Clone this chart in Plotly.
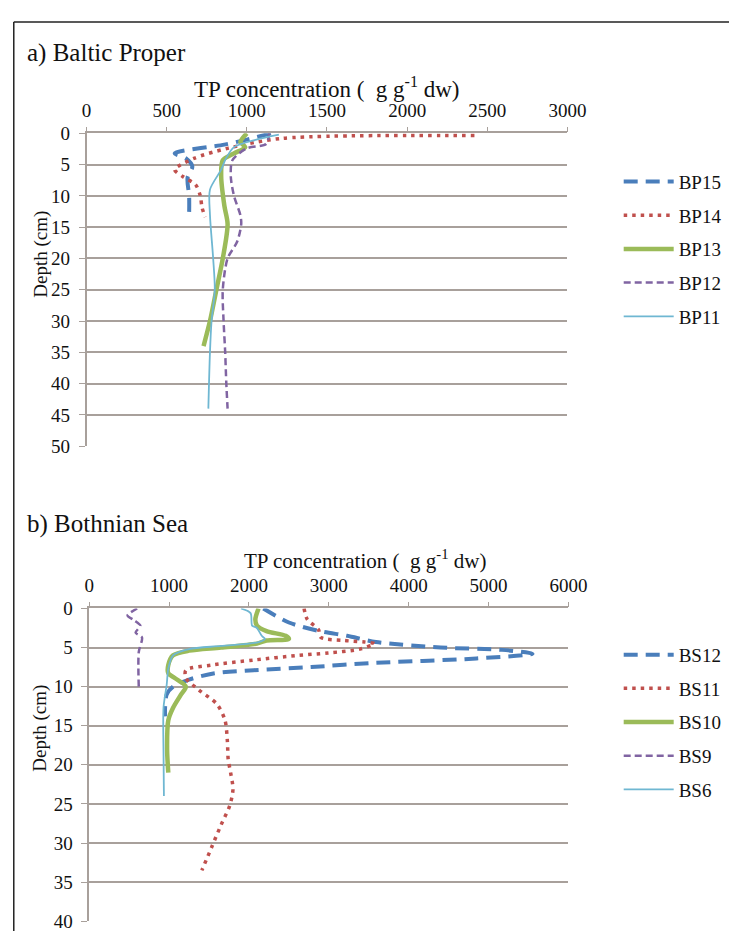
import plotly.graph_objects as go

# ---------------- data: a) Baltic Proper ----------------
bp_names = ["BP15", "BP14", "BP13", "BP12", "BP11"]
bp15_depth = [0, 1, 1.8, 3.2, 4.0, 5.3, 7.1, 10, 13.1]
bp15_tp = [1150, 1000, 860, 550, 620, 660, 630, 640, 640]
bp14_depth = [0.35, 0.8, 2.4, 4.0, 5.8, 6.9, 8.2, 10, 11.8, 13.4]
bp14_tp = [2420, 1220, 880, 670, 550, 600, 680, 710, 720, 740]
bp13_depth = [0, 1.4, 2.2, 3.2, 4.3, 6.9, 11.6, 14.5, 20, 25, 30, 34]
bp13_tp = [1000, 960, 990, 920, 850, 840, 860, 880, 850, 810, 770, 730]
bp12_depth = [0, 1.7, 2.4, 4.3, 6.9, 10, 13.1, 14.5, 17.3, 20, 25, 30, 35, 40, 44]
bp12_tp = [1140, 1120, 1000, 910, 900, 920, 960, 965, 940, 880, 850, 855, 865, 872, 880]
bp11_depth = [0.2, 1, 2.2, 4, 5.8, 9, 13, 20, 25, 30, 35, 44]
bp11_tp = [1200, 1060, 920, 870, 840, 770, 770, 790, 800, 780, 770, 760]

# ---------------- data: b) Bothnian Sea ----------------
bs_names = ["BS12", "BS11", "BS10", "BS9", "BS6"]
bs12_depth = [0, 1.8, 2.9, 3.5, 4.3, 5.0, 5.3, 5.8, 6.4, 7.0, 7.5, 7.9, 8.3, 9.1, 10, 11, 12.6, 13.8]
bs12_tp = [2180, 2500, 2880, 3230, 3590, 4400, 5170, 5550, 4850, 3500, 2780, 2060, 1570, 1250, 1050, 970, 950, 950]
bs11_depth = [0, 1.4, 2.7, 3.7, 4.1, 4.3, 4.5, 5.2, 5.7, 6.0, 6.6, 7.25, 7.9, 8.9, 10.4,
              12.25, 14.3, 17, 19.3, 21, 23.1, 25.2, 27.7, 30.6, 33.5]
bs11_tp = [2690, 2730, 2870, 2900, 3190, 3450, 3570, 3390, 2990, 2620, 2060, 1530, 1210, 1210, 1370,
           1600, 1700, 1730, 1740, 1770, 1800, 1760, 1650, 1530, 1410]
bs10_depth = [0, 1.4, 2.2, 2.9, 3.5, 3.9, 4.1, 4.5, 5.0, 5.4, 6, 7.25, 8.3, 8.9, 10, 11, 12.7, 14.3, 18, 21]
bs10_tp = [2120, 2080, 2100, 2220, 2460, 2500, 2220, 2100, 1650, 1250, 1050, 990, 990, 1070, 1210, 1150,
           1050, 990, 975, 990]
bs9_depth = [0, 0.9, 1.5, 2.2, 3.1, 3.7, 5.6, 10]
bs9_tp = [600, 480, 560, 640, 580, 660, 620, 620]
bs6_depth = [0, 0.6, 2.2, 2.5, 3.5, 3.9, 4.3, 4.8, 5.2, 6, 7.7, 9.75, 12.7, 18.5, 24]
bs6_tp = [1900, 2020, 2040, 2100, 2160, 2200, 2120, 1650, 1250, 1050, 990, 970, 930, 930, 935]

x_ticks_a = [0, 500, 1000, 1500, 2000, 2500, 3000]
x_ticks_b = [0, 1000, 2000, 3000, 4000, 5000, 6000]
y_ticks_a = list(range(0, 55, 5))
y_ticks_b = list(range(0, 45, 5))

# ---------------- styles ----------------
# figure is 740x934 so that with the page's default 8px body margin it fills 756x950
W, H = 740, 934
OFF = 8
FONT = "Liberation Serif"
GRID = "#a8a09b"
TXT = "#111111"
styles = [
    dict(color="#4a7ebb", width=4, dash="14px,8px"),
    dict(color="#c0504d", width=3.5, dash="3.5px,5px"),
    dict(color="#9bbb59", width=4.5, dash="solid"),
    dict(color="#8064a2", width=2.5, dash="7px,4px"),
    dict(color="#6fb7d2", width=1.8, dash="solid"),
]

fig = go.Figure()

bp_series = [(bp15_tp, bp15_depth), (bp14_tp, bp14_depth), (bp13_tp, bp13_depth),
             (bp12_tp, bp12_depth), (bp11_tp, bp11_depth)]
bs_series = [(bs12_tp, bs12_depth), (bs11_tp, bs11_depth), (bs10_tp, bs10_depth),
             (bs9_tp, bs9_depth), (bs6_tp, bs6_depth)]

for name, (x, y), st in zip(bp_names, bp_series, styles):
    fig.add_trace(go.Scatter(x=x, y=y, mode="lines", name=name, xaxis="x", yaxis="y",
                             line=dict(shape="spline", smoothing=0.8, **st),
                             legend="legend", legendgroup=name))
for name, (x, y), st in zip(bs_names, bs_series, styles):
    fig.add_trace(go.Scatter(x=x, y=y, mode="lines", name=name, xaxis="x2", yaxis="y2",
                             line=dict(shape="spline", smoothing=0.8, **st),
                             legend="legend2", legendgroup=name))


def px_x(p):
    return (p - OFF) / W


def px_y(p):
    return 1 - (p - OFF) / H


xaxis_common = dict(side="top", showgrid=False, zeroline=False, showline=True, linecolor=GRID,
                    linewidth=1.5, ticks="outside", ticklen=5, tickcolor=GRID, tickwidth=1.2,
                    tickfont=dict(family=FONT, size=19, color=TXT), ticklabelstandoff=2)
yaxis_common = dict(showgrid=True, gridcolor=GRID, gridwidth=1.5, zeroline=False, showline=True,
                    linecolor=GRID, linewidth=1.5, ticks="outside", ticklen=6, tickcolor=GRID,
                    tickwidth=1.2, tickfont=dict(family=FONT, size=19, color=TXT),
                    ticklabelstandoff=5)

legend_common = dict(font=dict(family=FONT, size=19, color=TXT), bgcolor="rgba(0,0,0,0)",
                     borderwidth=0, tracegroupgap=6, xanchor="left", yanchor="top",
                     itemclick=False, itemdoubleclick=False, itemwidth=50)

fig.update_layout(
    width=W, height=H, margin=dict(l=0, r=0, t=0, b=0),
    paper_bgcolor="white", plot_bgcolor="white", showlegend=True,
    xaxis=dict(domain=[px_x(84), px_x(581)], range=[0, 3000], tickvals=x_ticks_a, anchor="y",
               **xaxis_common),
    yaxis=dict(domain=[px_y(446), px_y(126)], range=[50, 0], tickvals=y_ticks_a, anchor="x",
               **yaxis_common),
    xaxis2=dict(domain=[px_x(86.8), px_x(582)], range=[0, 6000], tickvals=x_ticks_b, anchor="y2",
                **xaxis_common),
    yaxis2=dict(domain=[px_y(932), px_y(612)], range=[40, 0], tickvals=y_ticks_b, anchor="x2",
                **yaxis_common),
    legend=dict(x=px_x(634), y=px_y(156), **legend_common),
    legend2=dict(x=px_x(634), y=px_y(640), **legend_common),
)

axis_label = "TP concentration (\u00a0\u00a0g g<sup>-1</sup> dw)"
annotations = [
    dict(text="a) Baltic Proper", x=px_x(20), y=px_y(44), xanchor="left", yanchor="middle",
         font=dict(family=FONT, size=25, color=TXT)),
    dict(text=axis_label, x=px_x(193), y=px_y(79), xanchor="left", yanchor="middle",
         font=dict(family=FONT, size=23, color=TXT)),
    dict(text="Depth (cm)", x=px_x(36), y=px_y(250), xanchor="center", yanchor="middle",
         textangle=-90, font=dict(family=FONT, size=19, color=TXT)),
    dict(text="b) Bothnian Sea", x=px_x(20), y=px_y(526), xanchor="left", yanchor="middle",
         font=dict(family=FONT, size=25, color=TXT)),
    dict(text=axis_label, x=px_x(245), y=px_y(562), xanchor="left", yanchor="middle",
         font=dict(family=FONT, size=21, color=TXT)),
    dict(text="Depth (cm)", x=px_x(36), y=px_y(735), xanchor="center", yanchor="middle",
         textangle=-90, font=dict(family=FONT, size=19, color=TXT)),
]
for a in annotations:
    a.update(xref="paper", yref="paper", showarrow=False)
fig.update_layout(annotations=annotations)

# outer frame (top and left edges)
fig.add_shape(type="line", xref="paper", yref="paper", x0=px_x(8.8), x1=1, y0=px_y(12), y1=px_y(12),
              line=dict(color="#222", width=1.5))
fig.add_shape(type="line", xref="paper", yref="paper", x0=px_x(8.8), x1=px_x(8.8), y0=px_y(12), y1=0,
              line=dict(color="#222", width=1.5))

fig.write_html("out.html", config={"displayModeBar": False})
